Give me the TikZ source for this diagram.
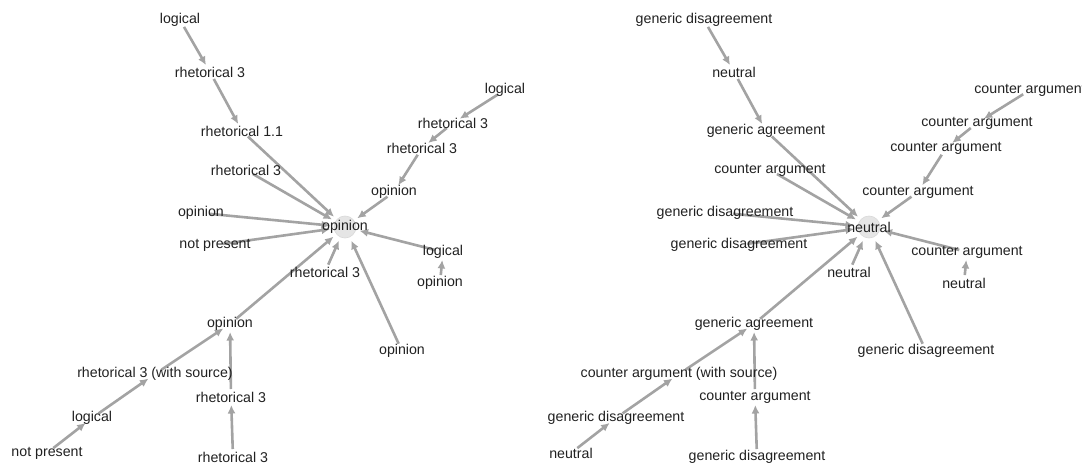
\documentclass[tikz,border=0pt]{standalone}
\usepackage{fontspec}
\setmainfont{Liberation Sans}
\usetikzlibrary{arrows.meta}
\begin{document}
\begin{tikzpicture}[x=1pt,y=-1pt,
  pt/.style={circle,minimum size=16pt,inner sep=0pt,outer sep=0pt},
  hub/.style={circle,minimum size=30pt,inner sep=0pt,outer sep=0pt},
  lbl/.style={inner sep=0pt,text=black!87,font=\fontsize{14.2}{16}\selectfont},
  edge/.style={draw=black!36,line width=2.6pt,-{Latex[length=8.5pt,width=8pt]}},
  hubdisc/.style={fill=black!10,draw=black!15,line width=0.6pt}]
\useasboundingbox (0,0) rectangle (1082,463);
\fill[white] (0,0) rectangle (1082,463);
\clip (0,0) rectangle (1082,463);
% ---------- left graph: points ----------
\node[hub] (c) at (345,227) {};
\node[pt] (a1) at (180,20) {};
\node[pt] (a2) at (210,72) {};
\node[pt] (a3) at (242,131) {};
\node[pt] (a4) at (246,170) {};
\node[pt] (a5) at (201,213) {};
\node[pt] (a6) at (215,245) {};
\node[pt] (a7) at (325,272) {};
\node[pt] (a8) at (443,252) {};
\node[pt] (a9) at (440,283) {};
\node[pt] (a10) at (402,351) {};
\node[pt] (a11) at (394,192) {};
\node[pt] (a12) at (422,148) {};
\node[pt] (a13) at (453,123) {};
\node[pt] (a14) at (505,90) {};
\node[pt] (a15) at (230,324) {};
\node[pt] (a16) at (155,374) {};
\node[pt] (a17) at (231,397) {};
\node[pt] (a18) at (92,418) {};
\node[pt] (a19) at (47,453) {};
\node[pt] (a20) at (233,457) {};
% ---------- right graph: points ----------
\node[hub] (d) at (869,227) {};
\node[pt] (b1) at (704,20) {};
\node[pt] (b2) at (734,72) {};
\node[pt] (b3) at (766,131) {};
\node[pt] (b4) at (770,170) {};
\node[pt] (b5) at (725,213) {};
\node[pt] (b6) at (739,245) {};
\node[pt] (b7) at (849,272) {};
\node[pt] (b8) at (967,252) {};
\node[pt] (b9) at (964,283) {};
\node[pt] (b10) at (926,351) {};
\node[pt] (b11) at (918,192) {};
\node[pt] (b12) at (946,148) {};
\node[pt] (b13) at (977,123) {};
\node[pt] (b14) at (1030,90) {};
\node[pt] (b15) at (754,324) {};
\node[pt] (b16) at (679,374) {};
\node[pt] (b17) at (755,397) {};
\node[pt] (b18) at (616,418) {};
\node[pt] (b19) at (571,453) {};
\node[pt] (b20) at (757,457) {};
% hub discs
\path[hubdisc] (c.center) circle (11pt);
\path[hubdisc] (d.center) circle (11pt);
% ---------- edges ----------
\foreach \g/\h in {a/c,b/d}{
  \draw[edge] (\g1) -- (\g2);
  \draw[edge] (\g2) -- (\g3);
  \draw[edge] (\g3) -- (\h);
  \draw[edge] (\g4) -- (\h);
  \draw[edge] (\g5) -- (\h);
  \draw[edge] (\g6) -- (\h);
  \draw[edge] (\g7) -- (\h);
  \draw[edge] (\g8) -- (\h);
  \draw[edge] (\g9) -- (\g8);
  \draw[edge] (\g10) -- (\h);
  \draw[edge] (\g14) -- (\g13);
  \draw[edge] (\g13) -- (\g12);
  \draw[edge] (\g12) -- (\g11);
  \draw[edge] (\g11) -- (\h);
  \draw[edge] (\g15) -- (\h);
  \draw[edge] (\g19) -- (\g18);
  \draw[edge] (\g18) -- (\g16);
  \draw[edge] (\g16) -- (\g15);
  \draw[edge] (\g20) -- (\g17);
  \draw[edge] (\g17) -- (\g15);
}
% ---------- labels, left ----------
\node[lbl] (ct) at (c) {opinion};
\node[lbl] (a1t) at (a1) {logical};
\node[lbl] (a2t) at (a2) {rhetorical 3};
\node[lbl] (a3t) at (a3) {rhetorical 1.1};
\node[lbl] (a4t) at (a4) {rhetorical 3};
\node[lbl] (a5t) at (a5) {opinion};
\node[lbl] (a6t) at (a6) {not present};
\node[lbl] (a7t) at (a7) {rhetorical 3};
\node[lbl] (a8t) at (a8) {logical};
\node[lbl] (a9t) at (a9) {opinion};
\node[lbl] (a10t) at (a10) {opinion};
\node[lbl] (a11t) at (a11) {opinion};
\node[lbl] (a12t) at (a12) {rhetorical 3};
\node[lbl] (a13t) at (a13) {rhetorical 3};
\node[lbl] (a14t) at (a14) {logical};
\node[lbl] (a15t) at (a15) {opinion};
\node[lbl] (a16t) at (a16) {rhetorical 3 (with source)};
\node[lbl] (a17t) at (a17) {rhetorical 3};
\node[lbl] (a18t) at (a18) {logical};
\node[lbl] (a19t) at (a19) {not present};
\node[lbl] (a20t) at (a20) {rhetorical 3};
% ---------- labels, right ----------
\node[lbl] (dt) at (d) {neutral};
\node[lbl] (b1t) at (b1) {generic disagreement};
\node[lbl] (b2t) at (b2) {neutral};
\node[lbl] (b3t) at (b3) {generic agreement};
\node[lbl] (b4t) at (b4) {counter argument};
\node[lbl] (b5t) at (b5) {generic disagreement};
\node[lbl] (b6t) at (b6) {generic disagreement};
\node[lbl] (b7t) at (b7) {neutral};
\node[lbl] (b8t) at (b8) {counter argument};
\node[lbl] (b9t) at (b9) {neutral};
\node[lbl] (b10t) at (b10) {generic disagreement};
\node[lbl] (b11t) at (b11) {counter argument};
\node[lbl] (b12t) at (b12) {counter argument};
\node[lbl] (b13t) at (b13) {counter argument};
\node[lbl] (b14t) at (b14) {counter argument};
\node[lbl] (b15t) at (b15) {generic agreement};
\node[lbl] (b16t) at (b16) {counter argument (with source)};
\node[lbl] (b17t) at (b17) {counter argument};
\node[lbl] (b18t) at (b18) {generic disagreement};
\node[lbl] (b19t) at (b19) {neutral};
\node[lbl] (b20t) at (b20) {generic disagreement};
\end{tikzpicture}
\end{document}
